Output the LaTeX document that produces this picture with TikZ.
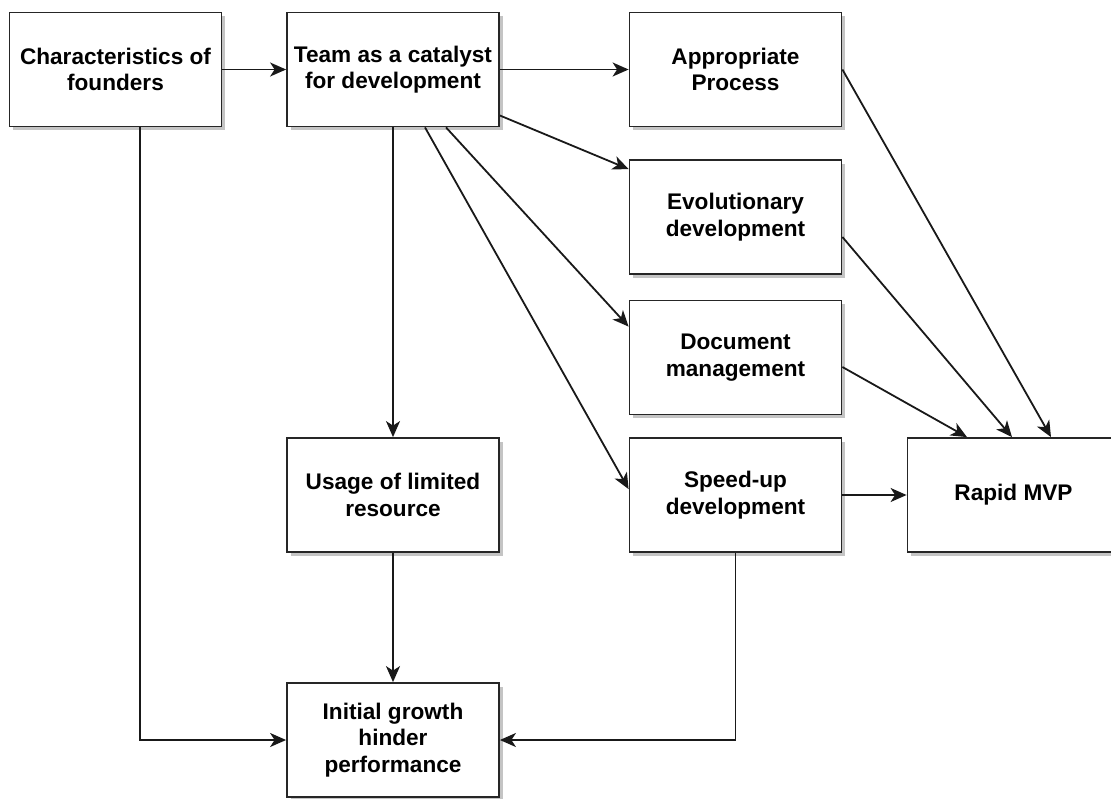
\documentclass[tikz,border=0pt]{standalone}
\usepackage{fontspec}
\setmainfont{Liberation Sans}
\usetikzlibrary{arrows.meta,shadows}
\definecolor{shadowgray}{HTML}{C4C4C4}
\begin{document}
\begin{tikzpicture}[x=1pt,y=-1pt,
  box/.style={draw=black!85, line width=1.8pt, fill=white, rectangle,
    minimum width=212pt, minimum height=114pt, inner sep=4pt,
    align=center, font=\bfseries\fontsize{22.6}{26.4}\selectfont,
    drop shadow={shadow xshift=3.5pt, shadow yshift=-3.5pt, fill=shadowgray, opacity=1}},
  link/.style={draw=black!90, line width=1.8pt,
    -{Stealth[length=16pt, width=14pt, inset=4.5pt]}}
]
\useasboundingbox (0,0) rectangle (1111,798);
\clip (0,0) rectangle (1111,798);

% boxes
\node[box] (chars) at (115.5,69.5) {Characteristics of\\founders};
\node[box] (team)  at (393,69.5)   {Team as a catalyst\\for development};
\node[box] (app)   at (735.5,69.5) {Appropriate\\Process};
\node[box] (evo)   at (735.5,217)  {Evolutionary\\development};
\node[box] (doc)   at (735.5,357.5){Document\\management};
\node[box] (speed) at (735.5,495)  {Speed-up\\development};
\node[box] (mvp)   at (1013.5,495) {Rapid MVP};
\node[box] (usage) at (393,495)    {Usage of limited\\resource};
\node[box] (init)  at (393,740)    {Initial growth\\hinder\\performance};

% connectors
\draw[link] (chars.east) -- (team.west);
\draw[link] (team.east) -- (app.west);
\draw[link] ([yshift=-46pt]team.east) -- ([yshift=-10pt]evo.north west);
\draw[link] ([xshift=53pt]team.south) -- ([yshift=-27pt]doc.north west);
\draw[link] ([xshift=32pt]team.south) -- ([yshift=-52pt]speed.north west);
\draw[link] (team.south) -- (usage.north);
\draw[link] ([xshift=24.5pt]chars.south) |- (init.west);
\draw[link] (usage.south) -- (init.north);
\draw[link] (speed.south) |- (init.east);
\draw[link] (speed.east) -- (mvp.west);
\draw[link] (app.east) -- ([xshift=37.5pt]mvp.north);
\draw[link] ([yshift=-20pt]evo.east) -- ([xshift=-1.5pt]mvp.north);
\draw[link] ([yshift=-9.5pt]doc.east) -- ([xshift=-46.5pt]mvp.north);
\end{tikzpicture}
\end{document}
